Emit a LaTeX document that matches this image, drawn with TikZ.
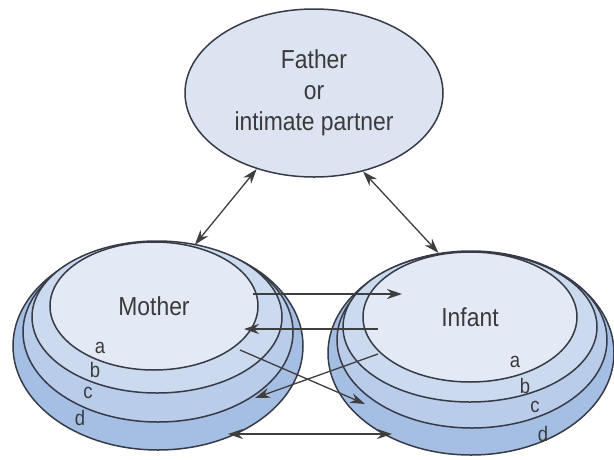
\documentclass[tikz,border=0pt]{standalone}
\usepackage{fontspec}
\setmainfont[FakeStretch=0.88]{Liberation Sans}
\usetikzlibrary{arrows.meta, shapes.geometric}
\definecolor{edgeGray}{HTML}{363B46}
\definecolor{lineGray}{HTML}{3E3E3E}
\definecolor{textGray}{HTML}{3A3A3A}
\definecolor{fatherFill}{HTML}{DCE4F2}
\definecolor{ringa}{HTML}{E3E9F5}
\definecolor{ringb}{HTML}{CCDAF0}
\definecolor{ringc}{HTML}{B9CCEA}
\definecolor{ringd}{HTML}{A5BEE4}

\begin{document}
\begin{tikzpicture}[x=1pt, y=-1pt,
    ring/.style={ellipse, draw=edgeGray, line width=1.5pt, inner sep=0pt,
                 text=textGray, font=\fontsize{26}{31}\selectfont},
    tag/.style={text=textGray, inner sep=0pt, font=\fontsize{21}{21}\selectfont},
    link/.style={draw=lineGray, line width=1.3pt, -{Stealth[length=15pt, width=10pt]}},
    both/.style={link, {Stealth[length=15pt, width=10pt]}-{Stealth[length=15pt, width=10pt]}}]
  \useasboundingbox (0,0) rectangle (614,459);

  % top partner
  \node[ring, fill=fatherFill, minimum width=258pt, minimum height=168pt, align=center]
    (father) at (314,93) {Father\\or\\intimate partner};

  % mother rings, outer first
  \foreach \r/\cx/\cy/\w/\h in {d/158/346/290/208, c/158/332/270/180, b/157/317/250/152}
    \node[ring, fill=ring\r, minimum width=\w pt, minimum height=\h pt] (m-\r) at (\cx,\cy) {};
  \node[ring, fill=ringa, minimum width=208pt, minimum height=128pt] (m-a) at (154,306) {Mother};

  % infant rings, outer first
  \foreach \r/\cx/\cy/\w/\h in {d/471/353/286/204, c/472/340/270/176, b/470/327/254/150}
    \node[ring, fill=ring\r, minimum width=\w pt, minimum height=\h pt] (i-\r) at (\cx,\cy) {};
  \node[ring, fill=ringa, minimum width=214pt, minimum height=130pt] (i-a) at (470,317) {Infant};

  % ring letters
  \foreach \t/\x/\y in {a/100/348, b/95/370, c/88/393, d/80/418}
    \node[tag] (m-\t-lbl) at (\x,\y) {\t};
  \foreach \t/\x/\y in {a/515/362, b/525/386, c/535/407, d/543/434}
    \node[tag] (i-\t-lbl) at (\x,\y) {\t};

  % ends of the links between mother and infant
  \coordinate (m1) at (253,294);
  \coordinate (i1) at (402,294);
  \coordinate (i2) at (378,329);
  \coordinate (m2) at (244,329);
  \coordinate (m3) at (240,350);
  \coordinate (i3) at (365,404);
  \coordinate (i4) at (378,354);
  \coordinate (m4) at (255,398);
  \coordinate (m5) at (228,434);
  \coordinate (i5) at (392,434);

  \draw[both] (father.233) -- (m-d.70);
  \draw[both] (father.302) -- (i-d.108);
  \draw[link] (m1) -- (i1);
  \draw[link] (i2) -- (m2);
  \draw[link] (m3) -- (i3);
  \draw[link] (i4) -- (m4);
  \draw[both] (m5) -- (i5);
\end{tikzpicture}
\end{document}
